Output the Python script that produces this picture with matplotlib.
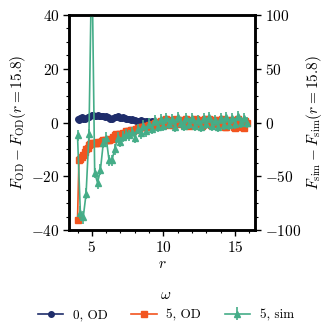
import numpy as np
from matplotlib import pyplot as plt
from matplotlib.ticker import AutoMinorLocator

plt.rcParams['font.family'] = 'serif'
plt.rcParams['font.serif'] = ['cmr10']
plt.rcParams['mathtext.fontset'] = 'cm'
plt.rcParams['axes.formatter.use_mathtext'] = True
plt.rcParams['font.size'] = 11

# radial grid of the OD curves and of the simulation
r_od = np.round(np.arange(4.0, 15.85, 0.1), 1)
r_sim = np.round(np.arange(4.0, 15.85, 0.2), 1)

od_w0 = [1.3, 1.1, 1.6, 1.9, 1.4, 1.2, 1.7, 2.0, 2.2, 2.4,
         2.7, 2.8, 2.6, 2.5, 2.7, 2.6, 2.4, 2.5, 2.3, 2.2,
         2.3, 2.0, 1.8, 1.5, 1.3, 1.6, 1.9, 2.1, 2.3, 2.0,
         1.7, 1.6, 1.9, 1.7, 1.4, 1.5, 1.2, 1.0, 1.3, 1.1,
         0.9, 0.7, 0.5, 0.6, 0.8, 0.5, 0.4, 0.3, 0.5, 0.4,
         0.3, 0.2, 0.4, 0.3, 0.2, 0.1, 0.3, 0.2, 0.1, 0.2,
         0.1, 0.2, 0.1, 0.0, 0.1, 0.2, 0.1, 0.0, 0.1, 0.0,
         0.1, 0.0, 0.1, 0.0, -0.1, 0.0, 0.1, 0.0, -0.1, 0.0,
         0.0, 0.1, 0.0, -0.1, 0.0, 0.1, 0.0, 0.0, -0.1, 0.0,
         0.1, 0.0, 0.0, -0.1, 0.0, 0.0, 0.1, 0.0, 0.0, -0.1,
         0.0, 0.0, 0.1, 0.0, -0.1, 0.0, 0.0, 0.1, 0.0, 0.0,
         -0.1, 0.0, 0.0, 0.1, 0.0, 0.0, -0.1, 0.0, 0.0]

od_w5 = [-36.3, -14.0, -13.5, -12.7, -12.0, -11.0, -10.0, -9.5, -8.5, -7.8,
         -7.6, -7.5, -7.5, -7.5, -7.4, -7.5, -7.3, -6.8, -6.6, -6.5,
         -6.5, -6.4, -6.6, -6.3, -6.2, -5.2, -4.5, -4.4, -4.5, -4.3,
         -4.4, -4.6, -4.0, -3.8, -3.2, -3.0, -3.1, -2.9, -2.7, -3.0,
         -2.6, -2.3, -2.0, -2.2, -1.8, -1.6, -1.7, -1.4, -1.2, -1.5,
         -1.0, -0.8, -1.2, -0.6, -0.3, -0.7, 0.2, -0.4, 0.5, -0.2,
         0.3, 1.0, 1.2, -0.5, -0.8, 0.6, 0.9, -1.0, 0.4, 1.5,
         0.8, -0.6, 0.2, 1.1, -0.9, 0.5, 1.3, 0.0, -1.2, 0.7,
         1.0, -0.4, 0.3, 1.4, -0.7, 0.6, 0.9, -1.1, 0.2, 1.2,
         -0.3, 0.8, 1.5, -0.8, 0.1, 0.9, -0.5, 1.1, 0.4, -1.0,
         0.6, 1.2, -0.2, -1.5, -1.8, 0.3, 0.9, -0.6, 1.0, -1.7,
         -2.0, 0.5, 1.3, -0.4, 0.7, -1.6, -1.9, 0.4, 0.0]

sim_w5 = [-12, -84, -88, -66, -11, 160, -47, -56, -44, -19,
          -14, -35, -35, -25, -14, -18, -13, -11, -12, -9,
          -14, -6, -10, -3, -8, -1, -6, 2, -4, 3,
          -3, 4, -1, 3, -4, 5, 0, -3, 4, -1,
          4, -3, 2, -4, 4, -1, 5, -3, 2, -4,
          4, -2, 5, -2, 4, -1, 6, 0, 4, 0]
sim_err = [5, 6, 6, 5, 5, 6, 5, 6, 5, 5,
           5, 5, 5, 5, 5, 5, 5, 5, 5, 5,
           5, 5, 5, 5, 5, 5, 5, 5, 5, 5,
           5, 5, 5, 5, 5, 5, 5, 5, 5, 5,
           5, 5, 5, 5, 5, 5, 5, 5, 5, 5,
           5, 5, 5, 5, 5, 5, 5, 5, 5, 5]

c_navy = '#1f2d6b'
c_orange = '#f2541f'
c_green = '#45ad88'

fig = plt.figure(figsize=(3.32, 3.33), dpi=100)
ax = fig.add_axes([0.208, 0.309, 0.56, 0.646])
ax2 = ax.twinx()

l0, = ax.plot(r_od, od_w0, '-o', color=c_navy, ms=4, lw=1.2, label='0, OD')
l1, = ax.plot(r_od, od_w5, '-s', color=c_orange, ms=4, lw=1.2, label='5, OD')
l2 = ax2.errorbar(r_sim, sim_w5, yerr=sim_err, fmt='-^', color=c_green, ms=4, lw=1.2,
                  elinewidth=1.2, capsize=0, label='5, sim')

ax.set_ylim(-40, 40)
ax2.set_ylim(-100, 100)
ax.set_yticks([-40, -20, 0, 20, 40])
ax2.set_yticks([-100, -50, 0, 50, 100])
ax.set_xticks([5, 10, 15])

ax.set_xlabel('$r$', labelpad=2)
ax.set_ylabel(r'$F_{\mathrm{OD}} - F_{\mathrm{OD}}(r = 15.8)$', labelpad=2)
ax2.set_ylabel(r'$F_{\mathrm{sim}} - F_{\mathrm{sim}}(r = 15.8)$', labelpad=2)

for a in (ax, ax2):
    a.xaxis.set_minor_locator(AutoMinorLocator(5))
    a.yaxis.set_minor_locator(AutoMinorLocator(4))
    a.tick_params(which='major', length=4, width=1, direction='out', pad=3)
    a.tick_params(which='minor', length=2, width=0.8, direction='out')
    for s in a.spines.values():
        s.set_linewidth(1.8)
ax.tick_params(top=False, which='both')

fig.legend([l0, l1, l2], ['0, OD', '5, OD', '5, sim'], title=r'$\omega$', ncol=3,
           loc='lower center', bbox_to_anchor=(0.5, 0.0), frameon=False, fontsize=9.5,
           title_fontsize=11, handlelength=1.9, columnspacing=1.8, handletextpad=0.75)

fig.savefig('out.png', dpi=100)
